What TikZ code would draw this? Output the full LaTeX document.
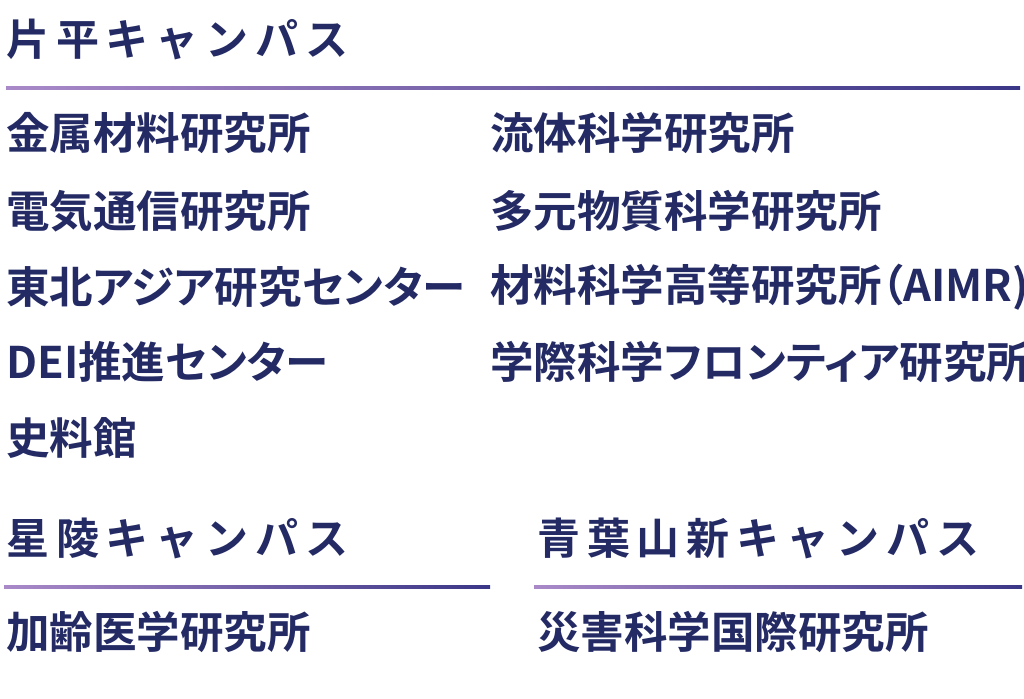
\documentclass[tikz,border=0pt]{standalone}
\usepackage{fontspec}
\setmainfont{Noto Sans CJK JP}[BoldFont={* Bold}]
\definecolor{navy}{HTML}{232A64}
\definecolor{lpur}{HTML}{A989C8}
\definecolor{dblu}{HTML}{3B3787}
\begin{document}
\begin{tikzpicture}[x=1pt,y=-1pt,
  item/.style={anchor=west,inner sep=0pt,text=navy,font=\fontsize{43.5}{44}\selectfont\bfseries\addfontfeature{RawFeature=+palt}},
  head/.style={anchor=west,inner sep=0pt,text=navy,font=\fontsize{43}{44}\selectfont\bfseries\addfontfeature{LetterSpace=16}}]
\useasboundingbox (0,0) rectangle (1024,698);
\node[head] (h1) at (6,40) {片平キャンパス};
\shade[left color=lpur,right color=dblu] (6,87) rectangle (1020,90);
\node[item] (a1) at (6,133) {金属材料研究所};
\node[item] (a2) at (6,211) {電気通信研究所};
\node[item] (a3) at (6,287) {東北アジア研究センター};
\node[item] (a4) at (6,362) {DEI推進センター};
\node[item] (a5) at (6,438) {史料館};
\node[item] (b1) at (490,133) {流体科学研究所};
\node[item] (b2) at (490,211) {多元物質科学研究所};
\node[item] (b3) at (490,287) {材料科学高等研究所（AIMR)};
\node[item] (b4) at (490,362) {学際科学フロンティア研究所};
\node[head] (h2) at (6,538) {星陵キャンパス};
\shade[left color=lpur,right color=dblu] (4,585) rectangle (490,588);
\node[item] (c1) at (6,632) {加齢医学研究所};
\node[head] (h3) at (537,538) {青葉山新キャンパス};
\shade[left color=lpur,right color=dblu] (534,585) rectangle (1022,588);
\node[item] (d1) at (537,632) {災害科学国際研究所};
\end{tikzpicture}
\end{document}
